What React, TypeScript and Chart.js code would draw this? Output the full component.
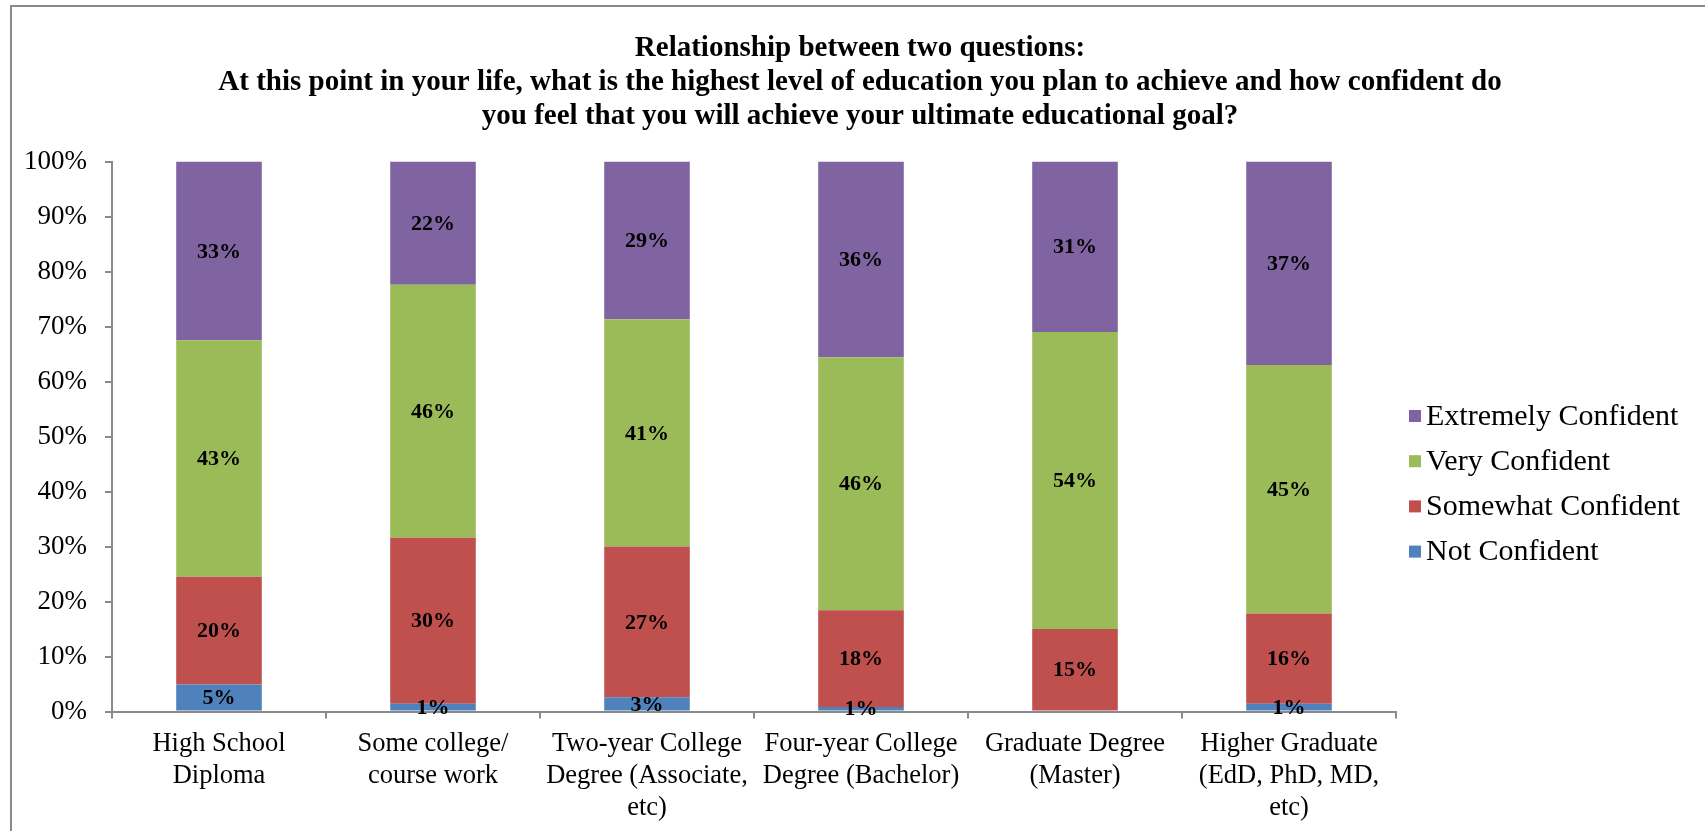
import React, { useEffect, useRef } from "react";
import { Chart, registerables } from "chart.js";

Chart.register(...registerables);

// ---- data ----
const categories: string[][] = [
  ["High School", "Diploma"],
  ["Some college/", "course work"],
  ["Two-year College", "Degree (Associate,", "etc)"],
  ["Four-year College", "Degree (Bachelor)"],
  ["Graduate Degree", "(Master)"],
  ["Higher Graduate", "(EdD, PhD, MD,", "etc)"],
];
const notConfident = [4.9, 1.4, 2.6, 0.8, 0, 1.4];
const somewhatConfident = [19.6, 30.2, 27.4, 17.6, 15.0, 16.4];
const veryConfident = [43.0, 46.0, 41.3, 46.0, 54.0, 45.2];
const extremelyConfident = [32.5, 22.4, 28.7, 35.6, 31.0, 37.0];
const seriesNames = ["Not Confident", "Somewhat Confident", "Very Confident", "Extremely Confident"];
const seriesColors = ["#4F81BD", "#C0504D", "#9BBB59", "#8064A2"];
const titleLines = [
  "Relationship between two questions:",
  "At this point in your life, what is the highest level of education you plan to achieve and how confident do",
  "you feel that you will achieve your ultimate educational goal?",
];
const yTickValues = [0, 10, 20, 30, 40, 50, 60, 70, 80, 90, 100];

const FONT = '"Liberation Serif", "Times New Roman", Times, serif';
const AXIS_COLOR = "#8a8a8a";

const W = 1705;
const H = 831;
const PLOT_TOP = 161.5;
const PLOT_BOTTOM = 711.5;
const PLOT_LEFT = 112;
const PLOT_RIGHT = 1396;

const framePlugin = {
  id: "frame",
  afterDraw(chart: any) {
    const ctx = chart.ctx;
    ctx.save();
    ctx.strokeStyle = "#8a8a8a";
    ctx.lineWidth = 2;
    ctx.beginPath();
    ctx.moveTo(11, H);
    ctx.lineTo(11, 6);
    ctx.lineTo(W, 6);
    ctx.stroke();
    ctx.restore();
  },
};

const titlePlugin = {
  id: "customTitle",
  afterDraw(chart: any) {
    const ctx = chart.ctx;
    ctx.save();
    ctx.font = `bold 29px ${FONT}`;
    ctx.fillStyle = "#000";
    ctx.textAlign = "center";
    ctx.textBaseline = "middle";
    titleLines.forEach((line, i) => {
      ctx.fillText(line, 860, 49 + i * 34);
    });
    ctx.restore();
  },
};

const dataLabelPlugin = {
  id: "dataLabels",
  afterDatasetsDraw(chart: any) {
    const ctx = chart.ctx;
    ctx.save();
    ctx.font = `bold 22px ${FONT}`;
    ctx.fillStyle = "#000";
    ctx.textAlign = "center";
    ctx.textBaseline = "middle";
    chart.data.datasets.forEach((ds: any, i: number) => {
      const meta = chart.getDatasetMeta(i);
      meta.data.forEach((bar: any, j: number) => {
        const v = ds.data[j];
        if (!v) return;
        const p = bar.getProps(["x", "y", "base"], true);
        ctx.fillText(Math.round(v) + "%", p.x, (p.y + p.base) / 2 + 1);
      });
    });
    ctx.restore();
  },
};

const legendPlugin = {
  id: "customLegend",
  afterDraw(chart: any) {
    const ctx = chart.ctx;
    ctx.save();
    ctx.font = `30px ${FONT}`;
    ctx.textAlign = "left";
    ctx.textBaseline = "middle";
    const n = chart.data.datasets.length;
    for (let k = 0; k < n; k++) {
      const idx = n - 1 - k;
      const ds = chart.data.datasets[idx];
      const cy = 416 + k * 45.2;
      ctx.fillStyle = ds.backgroundColor;
      ctx.fillRect(1409, cy - 6, 12, 12);
      ctx.fillStyle = "#000";
      ctx.fillText(ds.label, 1426, cy + 1);
    }
    ctx.restore();
  },
};

export default function App() {
  const canvasRef = useRef<HTMLCanvasElement | null>(null);

  useEffect(() => {
    document.body.style.margin = "0";
    document.body.style.overflow = "hidden";
    const canvas = canvasRef.current;
    if (!canvas) return;
    const seriesData = [notConfident, somewhatConfident, veryConfident, extremelyConfident];
    const chart = new Chart(canvas, {
      type: "bar",
      data: {
        labels: categories,
        datasets: seriesNames.map((name, i) => ({
          label: name,
          data: seriesData[i],
          backgroundColor: seriesColors[i],
          borderWidth: 0,
          categoryPercentage: 1,
          barPercentage: 0.4,
        })),
      },
      options: {
        responsive: false,
        animation: false,
        devicePixelRatio: 1,
        layout: {
          padding: { top: PLOT_TOP, left: 0, right: W - PLOT_RIGHT, bottom: 0 },
        },
        plugins: {
          legend: { display: false },
          title: { display: false },
          tooltip: { enabled: false },
        },
        scales: {
          x: {
            stacked: true,
            grid: {
              display: true,
              drawOnChartArea: false,
              drawTicks: true,
              tickLength: 7,
              color: AXIS_COLOR,
              lineWidth: 2,
              offset: true,
            },
            border: { display: true, color: AXIS_COLOR, width: 2 },
            ticks: {
              color: "#000",
              font: { family: FONT, size: 26.5, lineHeight: 1.22 },
              padding: 9,
              maxRotation: 0,
              minRotation: 0,
              autoSkip: false,
            },
            afterFit: (s: any) => {
              s.height = H - PLOT_BOTTOM;
            },
          },
          y: {
            stacked: true,
            min: 0,
            max: 100,
            afterBuildTicks: (s: any) => {
              s.ticks = yTickValues.map((v) => ({ value: v }));
            },
            grid: {
              display: true,
              drawOnChartArea: false,
              drawTicks: true,
              tickLength: 7,
              color: AXIS_COLOR,
              lineWidth: 2,
            },
            border: { display: true, color: AXIS_COLOR, width: 2 },
            ticks: {
              color: "#000",
              font: { family: FONT, size: 27 },
              padding: 18,
              callback: (v: any) => v + "%",
            },
            afterFit: (s: any) => {
              s.width = PLOT_LEFT;
            },
          },
        },
      },
      plugins: [dataLabelPlugin, legendPlugin, titlePlugin, framePlugin],
    });
    return () => chart.destroy();
  }, []);

  return (
    <div style={{ width: W, height: H, position: "relative", overflow: "hidden", background: "#fff" }}>
      <canvas ref={canvasRef} width={W} height={H} style={{ display: "block" }} />
    </div>
  );
}
